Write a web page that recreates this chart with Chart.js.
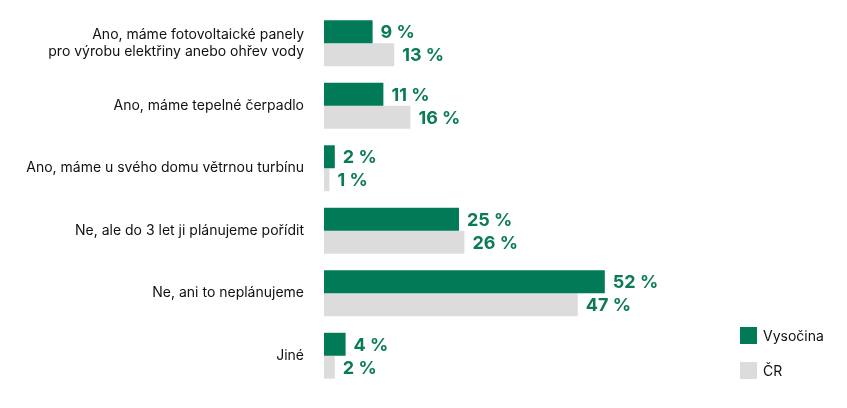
<!DOCTYPE html>
<html><head><meta charset="utf-8">
<script src="https://cdn.jsdelivr.net/npm/chart.js@4.4.1/dist/chart.umd.min.js"></script>
<style>
html,body{margin:0;padding:0;background:#fff;}
#wrap{position:relative;width:847px;height:408px;}
#legend{position:absolute;left:740px;top:327px;font-family:Inter,"Noto Sans",sans-serif;font-size:14px;color:#111;}
.li{display:flex;align-items:center;height:17px;margin-bottom:18px;}
.sw{width:17px;height:17px;margin-right:6px;}
</style></head>
<body><div id="wrap"><canvas id="c" width="847" height="408"></canvas>
<div id="legend"></div></div>
<script>
const categories = [
  ["Ano, máme fotovoltaické panely","pro výrobu elektřiny anebo ohřev vody"],
  "Ano, máme tepelné čerpadlo",
  "Ano, máme u svého domu větrnou turbínu",
  "Ne, ale do 3 let ji plánujeme pořídit",
  "Ne, ani to neplánujeme",
  "Jiné"
];
const seriesNames = ["Vysočina", "ČR"];
const vysocina = [9, 11, 2, 25, 52, 4];
const cr = [13, 16, 1, 26, 47, 2];
const colors = ["#007a57", "#dcdcdc"];
const labelColor = "#0a7a57";

const valueLabels = {
  id: 'valueLabels',
  afterDatasetsDraw(chart) {
    const ctx = chart.ctx;
    ctx.save();
    ctx.font = "bold 18px Inter, 'Noto Sans', sans-serif";
    ctx.fillStyle = labelColor;
    ctx.textBaseline = 'middle';
    ctx.textAlign = 'left';
    chart.data.datasets.forEach((ds, i) => {
      chart.getDatasetMeta(i).data.forEach((bar, j) => {
        ctx.fillText(ds.data[j] + " %", bar.x + 8, bar.y + 1);
      });
    });
    ctx.restore();
  }
};

const chart = new Chart(document.getElementById('c'), {
  type: 'bar',
  data: {
    labels: categories,
    datasets: [
      {label: seriesNames[0], data: vysocina, backgroundColor: colors[0], categoryPercentage: 0.735, barPercentage: 1},
      {label: seriesNames[1], data: cr, backgroundColor: colors[1], categoryPercentage: 0.735, barPercentage: 1}
    ]
  },
  options: {
    indexAxis: 'y',
    responsive: false,
    animation: false,
    layout: {padding: {top: 12, bottom: 21, left: 0, right: 145}},
    plugins: {legend: {display: false}, tooltip: {enabled: false}},
    scales: {
      x: {min: 0, max: 70, display: false},
      y: {
        grid: {display: false}, border: {display: false},
        afterFit(scale) { scale.width = 324; scale.paddingTop = 0; scale.paddingBottom = 0; },
        ticks: {
          padding: 12,
          color: '#111',
          font: {family: "Inter, 'Noto Sans', sans-serif", size: 14, lineHeight: 1.2}
        }
      }
    }
  },
  plugins: [valueLabels]
});

const lg = document.getElementById('legend');
seriesNames.forEach((n, i) => {
  const d = document.createElement('div'); d.className = 'li';
  const s = document.createElement('div'); s.className = 'sw'; s.style.background = colors[i];
  const t = document.createElement('span'); t.textContent = n;
  d.appendChild(s); d.appendChild(t); lg.appendChild(d);
});
</script></body></html>
